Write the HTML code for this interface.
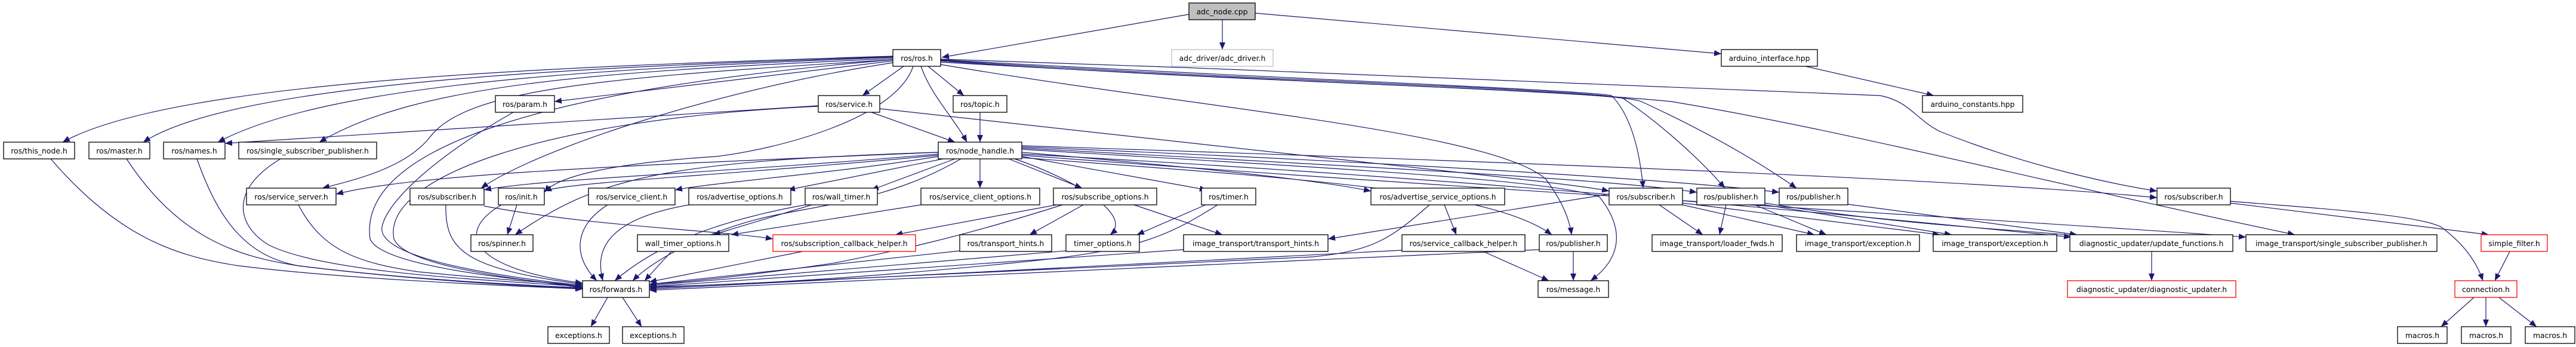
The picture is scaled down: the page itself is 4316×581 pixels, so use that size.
<!DOCTYPE html>
<html><head><meta charset="utf-8"><style>
html,body{margin:0;padding:0;background:#fff}
svg{display:block}
text{font-family:"DejaVu Sans","Liberation Sans",sans-serif;font-size:12.4px;fill:#000}
.n{fill:#fff;stroke:#000;stroke-width:1.3}
.r{fill:#fff;stroke:#ff0000;stroke-width:1.3}
.e path{fill:none;stroke:#191970;stroke-width:1.2;marker-end:url(#a)}
</style></head><body>
<svg width="4316" height="581" viewBox="0 0 4316 581" xmlns="http://www.w3.org/2000/svg">
<defs><marker id="a" markerUnits="userSpaceOnUse" markerWidth="12" markerHeight="10" refX="12" refY="5" orient="auto"><path d="M0 0 L12 5 L0 10 z" fill="#191970"/></marker></defs>
<g class="e">
<path d="M1992 24 L1578 96"/>
<path d="M2048 33 L2048 83"/>
<path d="M2103 22 L2884 90"/>
<path d="M3025 111 L3240 160"/>
<path d="M1496 94 C1000 110 300 130 105 238"/>
<path d="M1496 95 C1000 112 400 135 240 238"/>
<path d="M1496 96 C1000 115 550 140 365 238"/>
<path d="M1496 98 C1000 120 700 140 535 238"/>
<path d="M1496 102 L929 170"/>
<path d="M1514 111 L1445 160"/>
<path d="M1555 111 L1615 160"/>
<path d="M1543 111 C1560 160 1600 200 1620 238"/>
<path d="M1496 100 C1000 130 780 150 720 230 C680 280 600 300 540 315"/>
<path d="M1496 105 C1200 150 900 250 806 315"/>
<path d="M1530 111 C1500 200 1300 250 1200 262 C1000 275 930 300 912 322"/>
<path d="M1572 255 C1100 270 1000 300 863 393"/>
<path d="M1496 100 C900 150 600 250 620 400 C640 450 900 470 976 480"/>
<path d="M1371 178 C900 200 640 300 660 400 C680 450 900 470 976 482"/>
<path d="M1576 100 C2100 130 2650 150 2700 160 C2740 200 2750 280 2753 315"/>
<path d="M1576 101 C2100 135 2680 150 2720 165 C2800 220 2860 280 2890 315"/>
<path d="M1576 102 C2100 140 2700 150 2750 170 C2880 230 2960 280 3010 315"/>
<path d="M1576 99 C2200 120 3000 150 3150 160 C3200 170 3210 200 3250 220 C3400 280 3550 310 3614 320"/>
<path d="M1576 104 C2200 140 2600 150 2800 170 C3100 220 3400 300 3845 393"/>
<path d="M1576 108 C2000 180 2500 220 2590 300 C2620 340 2630 370 2633 393"/>
<path d="M1712 250 C2200 280 2600 300 2680 330 C2720 380 2720 430 2665 470"/>
<path d="M1474 182 L2200 262 C2500 295 2650 310 2696 320"/>
<path d="M1572 255 C1100 275 700 290 563 325"/>
<path d="M1572 258 C1200 290 900 300 811 318"/>
<path d="M1572 260 C1200 295 950 305 912 320"/>
<path d="M1572 262 C1400 290 1200 305 1131 318"/>
<path d="M1580 266 L1320 318"/>
<path d="M1600 266 L1460 318"/>
<path d="M1642 266 L1642 315"/>
<path d="M1690 266 L1813 315"/>
<path d="M1712 262 L2022 318"/>
<path d="M1712 255 C2000 280 2200 300 2297 320"/>
<path d="M1712 248 C2300 280 2700 300 2843 322"/>
<path d="M1712 246 C2300 270 2800 300 2981 322"/>
<path d="M1712 244 C2500 270 3300 300 3614 331"/>
<path d="M1700 266 C1800 300 1900 360 1860 393"/>
<path d="M1712 264 C2200 300 2500 320 2600 393"/>
<path d="M1610 266 C1500 330 1400 340 1300 360 C1200 380 1100 430 1060 470"/>
<path d="M1712 258 C2500 300 3200 370 3470 397"/>
<path d="M1712 260 C2500 320 3400 370 3763 397"/>
<path d="M1371 177 L377 240"/>
<path d="M1460 188 L1600 238"/>
<path d="M1642 188 L1642 238"/>
<path d="M860 188 C750 250 650 330 640 380 C630 440 900 470 976 478"/>
<path d="M85 266 C200 400 300 430 400 445 C600 470 900 480 976 484"/>
<path d="M212 266 C300 400 400 430 500 445 C700 470 900 480 976 483"/>
<path d="M330 266 C370 380 420 430 500 445 C700 470 900 478 976 482"/>
<path d="M470 266 C380 320 400 380 450 410 C550 460 850 470 976 480"/>
<path d="M500 343 C540 420 600 440 700 455 C850 470 950 475 976 478"/>
<path d="M747 343 C745 420 780 450 976 476"/>
<path d="M811 345 C1000 380 1200 385 1295 400"/>
<path d="M866 343 L850 393"/>
<path d="M840 343 C760 390 790 450 976 474"/>
<path d="M1018 343 C960 380 960 430 1000 470"/>
<path d="M1154 343 C1000 370 1000 430 1010 470"/>
<path d="M1360 343 L1195 393"/>
<path d="M1349 343 C1200 370 1100 410 1030 470"/>
<path d="M1543 343 L1225 393"/>
<path d="M1770 343 L1500 393"/>
<path d="M1815 343 L1725 393"/>
<path d="M1900 343 L2048 393"/>
<path d="M1780 343 C1600 400 1500 420 1400 440 C1200 470 1100 475 1088 476"/>
<path d="M2020 343 L1905 393"/>
<path d="M2040 343 C1950 400 1900 420 1700 440 C1400 470 1200 478 1088 480"/>
<path d="M1125 421 L1080 470"/>
<path d="M1345 421 L1088 472"/>
<path d="M1608 420 L1088 476"/>
<path d="M1786 420 L1088 478"/>
<path d="M1983 418 L1088 480"/>
<path d="M2420 343 L2440 393"/>
<path d="M2395 343 C2330 400 2300 420 2200 430 C1800 450 1300 470 1088 482"/>
<path d="M2485 421 L2595 470"/>
<path d="M2349 419 L1088 484"/>
<path d="M2636 421 L2636 470"/>
<path d="M2579 418 L1088 486"/>
<path d="M2696 325 L2225 400"/>
<path d="M2780 343 L2853 393"/>
<path d="M2819 343 L3040 393"/>
<path d="M2819 340 L3250 393"/>
<path d="M2892 343 L2881 393"/>
<path d="M2940 343 L3060 393"/>
<path d="M2957 343 L3270 393"/>
<path d="M2957 340 C3200 380 3400 385 3480 395"/>
<path d="M3096 342 L3480 393"/>
<path d="M3737 340 L4170 393"/>
<path d="M3737 337 C3900 350 4050 360 4090 380 C4130 410 4150 440 4160 470"/>
<path d="M4205 421 L4180 470"/>
<path d="M3605 421 L3605 470"/>
<path d="M4145 498 L4090 547"/>
<path d="M4165 498 L4165 547"/>
<path d="M4187 498 L4250 547"/>
<path d="M1018 498 L990 547"/>
<path d="M1043 498 L1075 547"/>
</g>
<g>
<rect x="1992" y="5" width="111" height="28" fill="#bfbfbf" stroke="#000" stroke-width="1.3"/><text x="2047.5" y="24" text-anchor="middle">adc_node.cpp</text>
<rect x="1963" y="83" width="170" height="28" fill="#fff" stroke="#bfbfbf" stroke-width="1.3"/><text x="2048" y="102" text-anchor="middle">adc_driver/adc_driver.h</text>
<rect class="n" x="1496" y="83" width="80" height="28"/><text x="1536" y="102" text-anchor="middle">ros/ros.h</text>
<rect class="n" x="2884" y="83" width="161" height="28"/><text x="2964.5" y="102" text-anchor="middle">arduino_interface.hpp</text>
<rect class="n" x="3221" y="160" width="168" height="28"/><text x="3305" y="179" text-anchor="middle">arduino_constants.hpp</text>
<rect class="n" x="830" y="160" width="99" height="28"/><text x="879.5" y="179" text-anchor="middle">ros/param.h</text>
<rect class="n" x="1371" y="160" width="103" height="28"/><text x="1422.5" y="179" text-anchor="middle">ros/service.h</text>
<rect class="n" x="1597" y="160" width="90" height="28"/><text x="1642" y="179" text-anchor="middle">ros/topic.h</text>
<rect class="n" x="6" y="238" width="119" height="28"/><text x="65.5" y="257" text-anchor="middle">ros/this_node.h</text>
<rect class="n" x="149" y="238" width="102" height="28"/><text x="200" y="257" text-anchor="middle">ros/master.h</text>
<rect class="n" x="274" y="238" width="103" height="28"/><text x="325.5" y="257" text-anchor="middle">ros/names.h</text>
<rect class="n" x="400" y="238" width="231" height="28"/><text x="515.5" y="257" text-anchor="middle">ros/single_subscriber_publisher.h</text>
<rect class="n" x="1572" y="238" width="140" height="28"/><text x="1642" y="257" text-anchor="middle">ros/node_handle.h</text>
<rect class="n" x="413" y="315" width="150" height="28"/><text x="488" y="334" text-anchor="middle">ros/service_server.h</text>
<rect class="n" x="687" y="315" width="124" height="28"/><text x="749" y="334" text-anchor="middle">ros/subscriber.h</text>
<rect class="n" x="835" y="315" width="77" height="28"/><text x="873.5" y="334" text-anchor="middle">ros/init.h</text>
<rect class="n" x="986" y="315" width="145" height="28"/><text x="1058.5" y="334" text-anchor="middle">ros/service_client.h</text>
<rect class="n" x="1154" y="315" width="171" height="28"/><text x="1239.5" y="334" text-anchor="middle">ros/advertise_options.h</text>
<rect class="n" x="1349" y="315" width="121" height="28"/><text x="1409.5" y="334" text-anchor="middle">ros/wall_timer.h</text>
<rect class="n" x="1543" y="315" width="199" height="28"/><text x="1642.5" y="334" text-anchor="middle">ros/service_client_options.h</text>
<rect class="n" x="1765" y="315" width="173" height="28"/><text x="1851.5" y="334" text-anchor="middle">ros/subscribe_options.h</text>
<rect class="n" x="2013" y="315" width="91" height="28"/><text x="2058.5" y="334" text-anchor="middle">ros/timer.h</text>
<rect class="n" x="2297" y="315" width="224" height="28"/><text x="2409" y="334" text-anchor="middle">ros/advertise_service_options.h</text>
<rect class="n" x="2696" y="315" width="123" height="28"/><text x="2757.5" y="334" text-anchor="middle">ros/subscriber.h</text>
<rect class="n" x="2843" y="315" width="114" height="28"/><text x="2900" y="334" text-anchor="middle">ros/publisher.h</text>
<rect class="n" x="2981" y="315" width="115" height="28"/><text x="3038.5" y="334" text-anchor="middle">ros/publisher.h</text>
<rect class="n" x="3614" y="315" width="123" height="28"/><text x="3675.5" y="334" text-anchor="middle">ros/subscriber.h</text>
<rect class="n" x="789" y="393" width="104" height="28"/><text x="841" y="412" text-anchor="middle">ros/spinner.h</text>
<rect class="n" x="1068" y="393" width="153" height="28"/><text x="1144.5" y="412" text-anchor="middle">wall_timer_options.h</text>
<rect class="r" x="1295" y="393" width="239" height="28"/><text x="1414.5" y="412" text-anchor="middle">ros/subscription_callback_helper.h</text>
<rect class="n" x="1608" y="393" width="154" height="28"/><text x="1685" y="412" text-anchor="middle">ros/transport_hints.h</text>
<rect class="n" x="1786" y="393" width="123" height="28"/><text x="1847.5" y="412" text-anchor="middle">timer_options.h</text>
<rect class="n" x="1983" y="393" width="242" height="28"/><text x="2104" y="412" text-anchor="middle">image_transport/transport_hints.h</text>
<rect class="n" x="2349" y="393" width="206" height="28"/><text x="2452" y="412" text-anchor="middle">ros/service_callback_helper.h</text>
<rect class="n" x="2579" y="393" width="114" height="28"/><text x="2636" y="412" text-anchor="middle">ros/publisher.h</text>
<rect class="n" x="2768" y="393" width="218" height="28"/><text x="2877" y="412" text-anchor="middle">image_transport/loader_fwds.h</text>
<rect class="n" x="3010" y="393" width="206" height="28"/><text x="3113" y="412" text-anchor="middle">image_transport/exception.h</text>
<rect class="n" x="3239" y="393" width="207" height="28"/><text x="3342.5" y="412" text-anchor="middle">image_transport/exception.h</text>
<rect class="n" x="3468" y="393" width="273" height="28"/><text x="3604.5" y="412" text-anchor="middle">diagnostic_updater/update_functions.h</text>
<rect class="n" x="3763" y="393" width="320" height="28"/><text x="3923" y="412" text-anchor="middle">image_transport/single_subscriber_publisher.h</text>
<rect class="r" x="4157" y="393" width="111" height="28"/><text x="4212.5" y="412" text-anchor="middle">simple_filter.h</text>
<rect class="n" x="976" y="470" width="112" height="28"/><text x="1032" y="489" text-anchor="middle">ros/forwards.h</text>
<rect class="n" x="2577" y="470" width="118" height="28"/><text x="2636" y="489" text-anchor="middle">ros/message.h</text>
<rect class="r" x="3464" y="470" width="282" height="28"/><text x="3605" y="489" text-anchor="middle">diagnostic_updater/diagnostic_updater.h</text>
<rect class="r" x="4113" y="470" width="104" height="28"/><text x="4165" y="489" text-anchor="middle">connection.h</text>
<rect class="n" x="918" y="547" width="103" height="28"/><text x="969.5" y="566" text-anchor="middle">exceptions.h</text>
<rect class="n" x="1043" y="547" width="103" height="28"/><text x="1094.5" y="566" text-anchor="middle">exceptions.h</text>
<rect class="n" x="4017" y="547" width="83" height="28"/><text x="4058.5" y="566" text-anchor="middle">macros.h</text>
<rect class="n" x="4124" y="547" width="83" height="28"/><text x="4165.5" y="566" text-anchor="middle">macros.h</text>
<rect class="n" x="4231" y="547" width="83" height="28"/><text x="4272.5" y="566" text-anchor="middle">macros.h</text>
</g>
</svg>
</body></html>
